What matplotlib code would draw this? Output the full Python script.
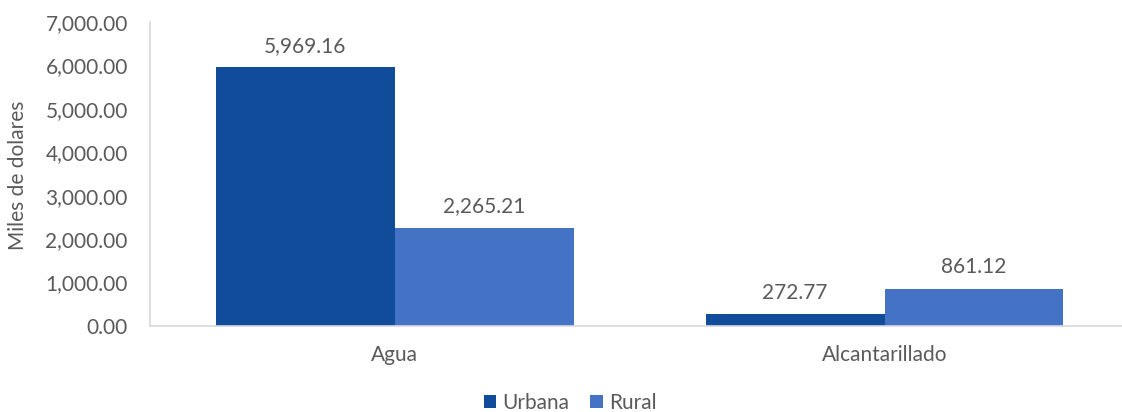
import numpy as np
import matplotlib.pyplot as plt
from matplotlib.ticker import FuncFormatter

categories = ["Agua", "Alcantarillado"]
urbana = [5969.16, 272.77]
rural = [2265.21, 861.12]
series_names = ["Urbana", "Rural"]
colors = ["#114C9A", "#4472C4"]

plt.rcParams['font.family'] = ['Lato', 'DejaVu Sans']
text_color = "#5A5A5A"
fs = 15

fig = plt.figure(figsize=(11.22, 4.12), dpi=100)
ax = fig.add_axes([150 / 1122, 86 / 412, 1 - 150 / 1122, 304 / 412])

x = np.arange(len(categories))
w = 0.365
b1 = ax.bar(x - w / 2, urbana, w, color=colors[0], label=series_names[0])
b2 = ax.bar(x + w / 2, rural, w, color=colors[1], label=series_names[1])

for bars in (b1, b2):
    for bar in bars:
        h = bar.get_height()
        ax.annotate(f"{h:,.2f}", (bar.get_x() + bar.get_width() / 2, h),
                    xytext=(0, 8), textcoords="offset points",
                    ha="center", va="bottom", fontsize=fs, color=text_color)

ax.set_xlim(-0.5, 1.485)
ax.set_ylim(0, 7000)
ax.set_yticks(np.arange(0, 7001, 1000))
ax.yaxis.set_major_formatter(FuncFormatter(lambda v, p: f"{v:,.2f}"))
ax.set_xticks(x)
ax.set_xticklabels(categories)
ax.tick_params(axis="both", length=0, labelsize=fs, colors=text_color)
ax.tick_params(axis="x", pad=14)
ax.tick_params(axis="y", pad=16)

for s in ["top", "right"]:
    ax.spines[s].set_visible(False)
ax.spines["left"].set_color("#D9D9D9")
ax.spines["bottom"].set_color("#D9D9D9")
ax.spines["left"].set_linewidth(1.2)
ax.spines["bottom"].set_linewidth(1.2)

fig.text(18 / 1122, 1 - 175 / 412, "Miles de dolares", rotation=90,
         ha="center", va="center", fontsize=fs, color=text_color)

fig.legend(loc="center", bbox_to_anchor=(570 / 1122, 1 - 403 / 412), ncol=2,
           frameon=False, fontsize=fs, handlelength=0.6, handleheight=0.6,
           handletextpad=0.3, columnspacing=1.0, labelcolor=text_color)

fig.savefig("out.png", dpi=100)
